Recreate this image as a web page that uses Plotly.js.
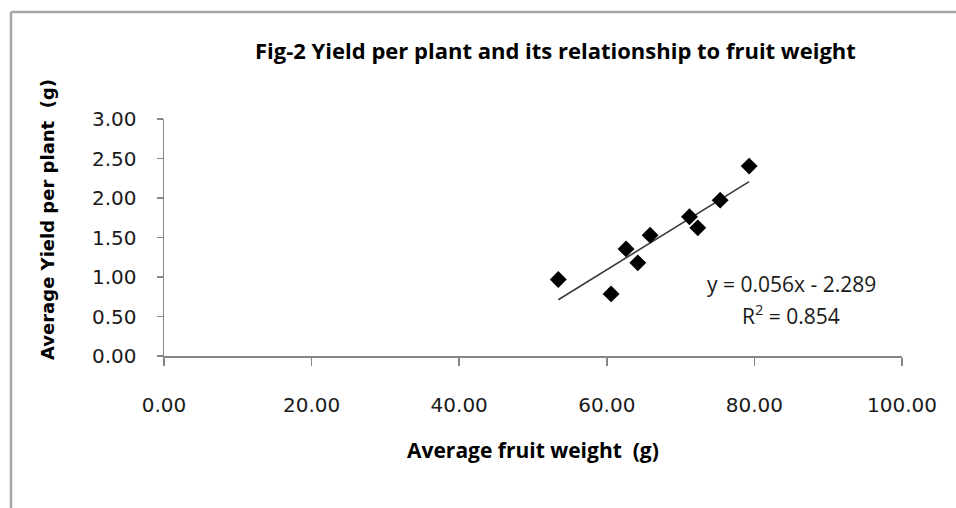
<!DOCTYPE html>
<html>
<head>
<meta charset="utf-8">
<script src="https://cdn.plot.ly/plotly-3.0.1.min.js"></script>
<style>
html,body{margin:0;padding:0;background:#fff;overflow:hidden;}
#chart{width:956px;height:508px;}
</style>
</head>
<body>
<div id="chart"></div>
<script>
// Data
const fruitWeight = [53.43, 60.58, 62.61, 64.20, 65.87, 71.20, 72.33, 75.36, 79.29];
const yieldPerPlant = [0.968, 0.786, 1.356, 1.179, 1.530, 1.762, 1.622, 1.973, 2.404];
const xTickValues = [0, 20, 40, 60, 80, 100];
const yTickValues = [0, 0.5, 1.0, 1.5, 2.0, 2.5, 3.0];
const chartTitle = 'Fig-2 Yield per plant and its relationship to fruit weight';
const xTitle = 'Average fruit weight&nbsp;&nbsp;(g)';
const yTitle = 'Average Yield per plant&nbsp;&nbsp;(g)';
const equationText = 'y = 0.056x - 2.289';
const r2Text = 'R<sup>2</sup> = 0.854';

// Linear least-squares trendline from the data
const n = fruitWeight.length;
const mx = fruitWeight.reduce((a, b) => a + b, 0) / n;
const my = yieldPerPlant.reduce((a, b) => a + b, 0) / n;
let sxy = 0, sxx = 0;
for (let i = 0; i < n; i++) {
  sxy += (fruitWeight[i] - mx) * (yieldPerPlant[i] - my);
  sxx += (fruitWeight[i] - mx) * (fruitWeight[i] - mx);
}
const slope = sxy / sxx;
const intercept = my - slope * mx;
const xMin = Math.min(...fruitWeight), xMax = Math.max(...fruitWeight);
const trendX = [xMin, xMax];
const trendY = trendX.map(x => slope * x + intercept);

const axisColor = '#868686';
const tickFont = {family: 'DejaVu Sans, Verdana, sans-serif', size: 20, color: '#1a1a1a'};

const traces = [
  {
    x: trendX, y: trendY, mode: 'lines', type: 'scatter',
    line: {color: '#3a3a3a', width: 1.6}, hoverinfo: 'skip', showlegend: false
  },
  {
    x: fruitWeight, y: yieldPerPlant, mode: 'markers', type: 'scatter',
    marker: {symbol: 'diamond', size: 13, color: '#000000', line: {width: 0}},
    showlegend: false
  }
];

const plotL = 164, plotR = 54, plotT = 119, plotB = 152;
const plotW = 956 - plotL - plotR, plotH = 508 - plotT - plotB;

const layout = {
  width: 956, height: 508,
  margin: {l: plotL, r: plotR, t: plotT, b: plotB, pad: 0},
  paper_bgcolor: '#ffffff', plot_bgcolor: '#ffffff',
  showlegend: false,
  xaxis: {
    range: [0, 100], tickvals: xTickValues, tickformat: '.2f',
    showgrid: false, zeroline: false, showline: true,
    linecolor: axisColor, linewidth: 1.5,
    ticks: 'outside', ticklen: 8, tickwidth: 1.5, tickcolor: axisColor,
    tickfont: tickFont, ticklabelstandoff: 22
  },
  yaxis: {
    range: [0, 3], tickvals: yTickValues, tickformat: '.2f',
    showgrid: false, zeroline: false, showline: true,
    linecolor: axisColor, linewidth: 1.5,
    ticks: 'outside', ticklen: 6, tickwidth: 1.5, tickcolor: axisColor,
    tickfont: tickFont, ticklabelstandoff: 16
  },
  annotations: [
    {
      text: chartTitle, xref: 'paper', yref: 'paper', x: 0, y: 1,
      xshift: 555 - plotL, yshift: plotT - 50, xanchor: 'center', yanchor: 'middle',
      showarrow: false, font: {family: 'Open Sans, sans-serif', size: 22, color: '#000', weight: 'bold'}
    },
    {
      text: xTitle, xref: 'paper', yref: 'paper', x: 0, y: 0,
      xshift: 533 - plotL, yshift: -(450 - (508 - plotB)), xanchor: 'center', yanchor: 'middle',
      showarrow: false, font: {family: 'Open Sans, sans-serif', size: 21, color: '#000', weight: 'bold'}
    },
    {
      text: yTitle, xref: 'paper', yref: 'paper', x: 0, y: 1,
      xshift: 47 - plotL, yshift: -(220 - plotT), xanchor: 'center', yanchor: 'middle',
      textangle: -90, showarrow: false,
      font: {family: 'DejaVu Sans, Verdana, sans-serif', size: 18, color: '#000', weight: 'bold'}
    },
    {
      text: equationText, xref: 'x', yref: 'y', x: 85.0, y: 0.909,
      xanchor: 'center', yanchor: 'middle', showarrow: false,
      font: {family: 'Open Sans, sans-serif', size: 21, color: '#1a1a1a'}
    },
    {
      text: r2Text, xref: 'x', yref: 'y', x: 84.9, y: 0.527,
      xanchor: 'center', yanchor: 'middle', showarrow: false,
      font: {family: 'Open Sans, sans-serif', size: 21, color: '#1a1a1a'}
    }
  ],
  shapes: [
    {type: 'line', xref: 'paper', yref: 'paper',
     x0: (11 - plotL) / plotW, x1: (960 - plotL) / plotW,
     y0: (508 - plotB - 12) / plotH, y1: (508 - plotB - 12) / plotH,
     line: {color: '#a6a6a6', width: 2.5}},
    {type: 'line', xref: 'paper', yref: 'paper',
     x0: (11 - plotL) / plotW, x1: (11 - plotL) / plotW,
     y0: (508 - plotB - 12) / plotH, y1: (508 - plotB - 515) / plotH,
     line: {color: '#a6a6a6', width: 2.5}}
  ]
};

Plotly.newPlot('chart', traces, layout, {displayModeBar: false, staticPlot: true});
</script>
</body>
</html>
